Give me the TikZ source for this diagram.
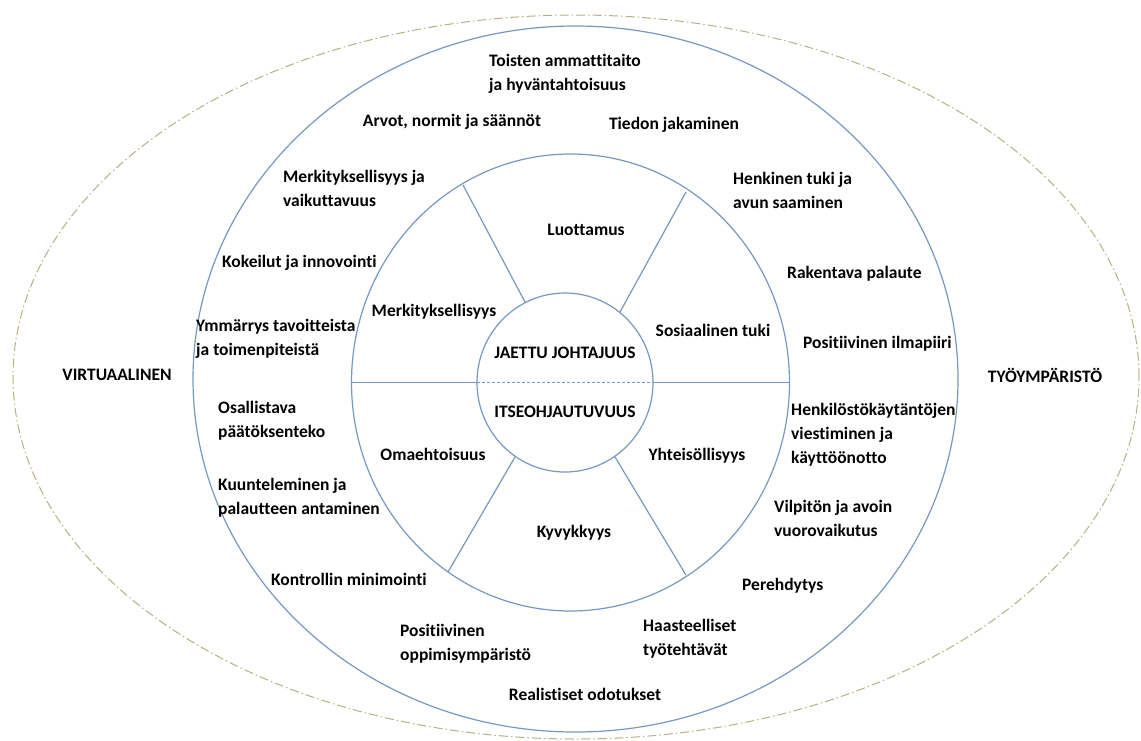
\documentclass[tikz,border=0pt]{standalone}
\usepackage{fontspec}
\setmainfont{Carlito}[Ligatures={NoCommon}]
\usetikzlibrary{calc}
\definecolor{ringblue}{RGB}{120,152,192}
\definecolor{dashtan}{RGB}{184,176,132}
\tikzset{
  ring/.style={draw=ringblue, line width=1.2pt},
  outerring/.style={draw=dashtan, line width=1pt, dash pattern=on 9pt off 3pt on 1.5pt off 3pt},
  lbl/.style={inner sep=0pt, font=\bfseries\fontsize{17.5}{24}\selectfont, text=black},
  lblw/.style={lbl, anchor=west, align=left},
  lblc/.style={lbl, anchor=center, align=center}
}
\begin{document}
\begin{tikzpicture}[x=1pt,y=-1pt]
\useasboundingbox (0,0) rectangle (1141,740);
\fill[white] (0,0) rectangle (1141,740);
% rings
\draw[outerring] (576,377) ellipse [x radius=563pt, y radius=362pt];
\draw[ring] (575.5,379) ellipse [x radius=382.5pt, y radius=353pt];
\draw[ring] (570.5,382.5) ellipse [x radius=219pt, y radius=228.5pt];
\draw[ring] (565,382.5) ellipse [x radius=88pt, y radius=89.5pt];
% spokes
\draw[ring] (525.3,302.6) -- (463,185);
\draw[ring] (620,312) -- (686,192);
\draw[ring] (515,457) -- (448,572);
\draw[ring] (615,457) -- (686,575);
% horizontal divider
\draw[ring] (351.5,382.5) -- (477,382.5);
\draw[ring, line width=0.9pt, dash pattern=on 3pt off 2pt] (477,382.5) -- (653,382.5);
\draw[ring] (653,382.5) -- (789.5,382.5);
% centre
\node[lblc] (jaettu) at (565,353) {JAETTU JOHTAJUUS};
\node[lblc] (itse) at (565,412) {ITSEOHJAUTUVUUS};
% sides
\node[lblc] (virt) at (117,375) {VIRTUAALINEN};
\node[lblc] (tyo) at (1045,375) {TYÖYMPÄRISTÖ};
% middle ring
\node[lblc] (luott) at (586,230) {Luottamus};
\node[lblc] (merk) at (434,312) {Merkityksellisyys};
\node[lblc] (sos) at (713,330) {Sosiaalinen tuki};
\node[lblc] (omae) at (433,454) {Omaehtoisuus};
\node[lblc] (yht) at (697,456) {Yhteisöllisyys};
\node[lblc] (kyv) at (574,533) {Kyvykkyys};
% outer ring
\node[lblw] (toisten) at (489,73.5) {Toisten ammattitaito\\ja hyväntahtoisuus};
\node[lblc] (arvot) at (452,122) {Arvot, normit ja säännöt};
\node[lblc] (tiedon) at (674,125) {Tiedon jakaminen};
\node[lblw] (merkv) at (283,188) {Merkityksellisyys ja\\vaikuttavuus};
\node[lblw] (henk) at (733,190) {Henkinen tuki ja\\avun saaminen};
\node[lblw] (kok) at (222,263) {Kokeilut ja innovointi};
\node[lblw] (rak) at (787,274) {Rakentava palaute};
\node[lblw] (ymm) at (196,339) {Ymmärrys tavoitteista\\ja toimenpiteistä};
\node[lblw] (posil) at (803,344) {Positiivinen ilmapiiri};
\node[lblw] (osal) at (218,421) {Osallistava\\päätöksenteko};
\node[lblw] (henkk) at (791,435) {Henkilöstökäytäntöjen\\viestiminen ja\\käyttöönotto};
\node[lblw] (kuunt) at (218,498) {Kuunteleminen ja\\palautteen antaminen};
\node[lblw] (vilp) at (774,518) {Vilpitön ja avoin\\vuorovaikutus};
\node[lblw] (kontr) at (271,579) {Kontrollin minimointi};
\node[lblw] (pereh) at (742,586) {Perehdytys};
\node[lblw] (posop) at (400,644) {Positiivinen\\oppimisympäristö};
\node[lblw] (haast) at (643,638.5) {Haasteelliset\\työtehtävät};
\node[lblc] (real) at (585,694) {Realistiset odotukset};
\end{tikzpicture}
\end{document}
